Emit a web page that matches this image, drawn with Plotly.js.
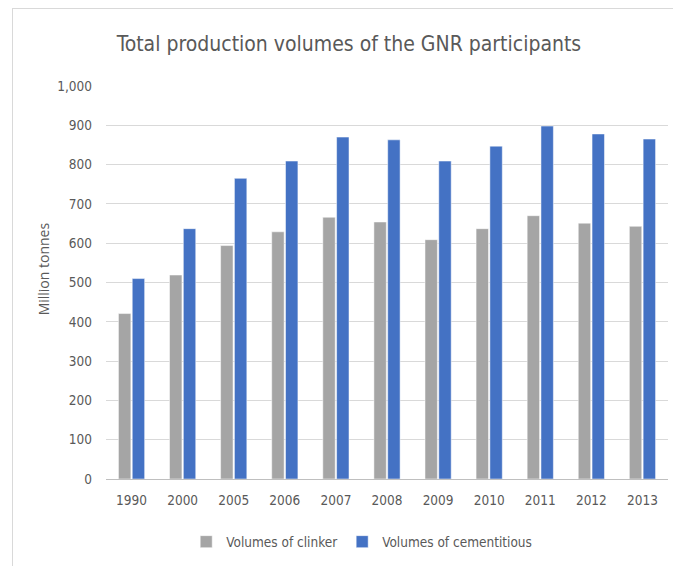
<!DOCTYPE html>
<html>
<head>
<meta charset="utf-8">
<script src="https://cdn.plot.ly/plotly-3.0.1.min.js"></script>
<style>
html,body{margin:0;padding:0;background:#fff;}
#frame{position:absolute;left:12px;top:8px;width:661px;height:558px;border-top:1px solid #d9d9d9;border-left:1px solid #d9d9d9;box-sizing:border-box;}
#chart{width:660px;height:557px;}
</style>
</head>
<body>
<div id="frame"><div id="chart"></div></div>
<script>
const years = ["1990","2000","2005","2006","2007","2008","2009","2010","2011","2012","2013"];
const clinker = [421, 519, 594, 629, 666, 654, 609, 637, 670, 651, 643];
const cementitious = [510, 637, 765, 809, 870, 863, 809, 847, 898, 878, 865];
const seriesNames = ["Volumes of clinker", "Volumes of cementitious"];
const yTicks = [0,100,200,300,400,500,600,700,800,900,1000];
const yTickText = ["0","100","200","300","400","500","600","700","800","900","1,000"];
const yTitle = "Million tonnes";

const FONT = '"DejaVu Sans Condensed", "Liberation Sans Narrow", sans-serif';
const TXT = '#595959';

const traces = [
  {type:'bar', x:years, y:clinker, name:seriesNames[0],
   marker:{color:'#A5A5A5', line:{color:'#ffffff', width:0.5}}, hoverinfo:'x+y'},
  {type:'bar', x:years, y:cementitious, name:seriesNames[1],
   marker:{color:'#4472C4', line:{color:'#ffffff', width:0.5}}, hoverinfo:'x+y'}
];

const layout = {
  width:660, height:557,
  margin:{l:93, r:5, t:77, b:87},
  paper_bgcolor:'#fff', plot_bgcolor:'#fff',
  font:{family:FONT, color:TXT, size:13},
  title:{text:'Total production volumes of the GNR participants',
         font:{family:FONT, size:21, color:TXT}, x:0.509, xanchor:'center', y:0.937, yanchor:'middle'},
  barmode:'group', bargap:0.46, bargroupgap:0.1,
  xaxis:{type:'category', showgrid:false, showline:true, linecolor:'#bfbfbf', linewidth:1,
         ticks:'', ticklabelstandoff:9, tickfont:{family:FONT, size:13.5, color:TXT}},
  yaxis:{range:[0,1000], tickvals:yTicks, ticktext:yTickText, showgrid:true, gridcolor:'#d9d9d9',
         gridwidth:1, zeroline:false, showline:false, ticks:'', ticklabelstandoff:13,
         tickfont:{family:FONT, size:13.5, color:TXT}},
  annotations:[{text:yTitle, xref:'paper', yref:'paper', x:-0.111, y:0.535, xanchor:'center', yanchor:'middle',
                textangle:-90, showarrow:false,
                font:{family:'"Open Sans", "DejaVu Sans", sans-serif', size:14, color:TXT}}],
  legend:{orientation:'h', x:0.455, xanchor:'center', y:-0.16, yanchor:'middle',
          font:{family:FONT, size:13.5, color:TXT}, itemwidth:30, traceorder:'normal'},
  showlegend:true
};

Plotly.newPlot('chart', traces, layout, {displayModeBar:false, staticPlot:true});
</script>
</body>
</html>
